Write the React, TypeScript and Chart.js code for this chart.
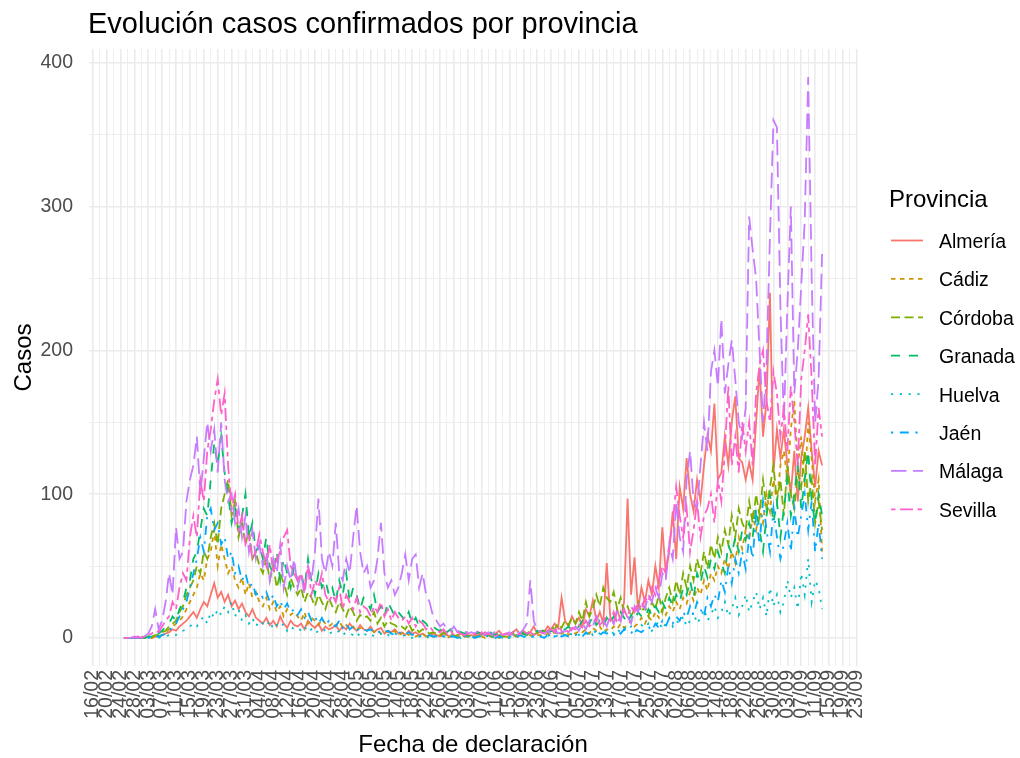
import React, { useEffect, useRef } from "react";
import { Chart, registerables } from "chart.js";

Chart.register(...registerables);

const titleText = "Evolución casos confirmados por provincia";
const xTitle = "Fecha de declaración";
const yTitle = "Casos";
const legendTitle = "Provincia";

const provinces = ["Almería", "Cádiz", "Córdoba", "Granada", "Huelva", "Jaén", "Málaga", "Sevilla"];

// day 0 = 16/02/2020; first data point = 25/02/2020
const firstDay = 9;

const xTickLabels = [
  "16/02", "20/02", "24/02", "28/02", "03/03", "07/03", "11/03", "15/03", "19/03", "23/03",
  "27/03", "31/03", "04/04", "08/04", "12/04", "16/04", "20/04", "24/04", "28/04", "02/05",
  "06/05", "10/05", "14/05", "18/05", "22/05", "26/05", "30/05", "03/06", "07/06", "11/06",
  "15/06", "19/06", "23/06", "27/06", "01/07", "05/07", "09/07", "13/07", "17/07", "21/07",
  "25/07", "29/07", "02/08", "06/08", "10/08", "14/08", "18/08", "22/08", "26/08", "30/08",
  "03/09", "07/09", "11/09", "15/09", "19/09", "23/09",
];

const yTickValues = [0, 50, 100, 150, 200, 250, 300, 350, 400];
const yLabelValues = [0, 100, 200, 300, 400];

const almeria = [
  0, 0, 0, 0, 0, 0, 0, 1, 0, 1,
  1, 2, 3, 4, 6, 5, 8, 10, 12, 15,
  18, 14, 20, 25, 22, 30, 38, 28, 32, 25,
  30, 22, 26, 20, 24, 18, 15, 20, 14, 12,
  10, 14, 9, 12, 8, 15, 10, 7, 12, 9,
  8, 10, 6, 12, 9, 7, 10, 5, 8, 6,
  7, 9, 5, 8, 6, 10, 7, 5, 9, 6,
  5, 8, 4, 6, 7, 3, 5, 4, 6, 3,
  4, 2, 5, 3, 4, 2, 3, 1, 2, 3,
  2, 1, 3, 2, 1, 2, 1, 3, 2, 1,
  2, 1, 3, 2, 4, 2, 1, 3, 5, 2,
  3, 2, 4, 6, 3, 5, 2, 4, 8, 3,
  5, 4, 8, 6, 10, 7, 28, 12, 8, 15,
  10, 14, 8, 20, 15, 26, 12, 18, 10, 52,
  15, 10, 20, 12, 25, 97, 30, 56, 20, 35,
  25, 40, 30, 50, 35, 77, 45, 60, 88, 55,
  105, 90, 125, 100, 88, 110, 95, 120, 141, 130,
  163, 110, 115, 140, 120, 150, 168, 125, 122, 110,
  122, 110, 150, 188, 140, 165, 240, 115, 145, 125,
  145, 120, 100, 130, 95, 125, 140, 160, 130, 105,
  130, 120,
];

const cadiz = [
  0, 0, 0, 0, 0, 0, 0, 1, 0, 1,
  1, 2, 4, 6, 8, 10, 12, 15, 20, 25,
  30, 35, 45, 40, 55, 60, 75, 50, 65, 55,
  45, 50, 40, 35, 42, 30, 38, 28, 32, 25,
  22, 28, 20, 25, 18, 22, 15, 20, 16, 18,
  15, 12, 18, 10, 14, 12, 9, 13, 10, 8,
  10, 8, 12, 7, 9, 6, 8, 5, 7, 6,
  5, 7, 4, 6, 3, 5, 4, 3, 5, 2,
  3, 4, 2, 3, 1, 2, 3, 1, 2, 1,
  1, 2, 1, 0, 1, 2, 1, 0, 1, 1,
  0, 1, 2, 1, 0, 1, 1, 2, 0, 1,
  1, 0, 2, 1, 1, 3, 1, 2, 1, 2,
  2, 1, 3, 2, 4, 2, 3, 5, 2, 4,
  3, 5, 4, 6, 3, 7, 5, 8, 4, 6,
  5, 8, 6, 10, 7, 9, 12, 8, 10, 14,
  10, 15, 12, 18, 14, 20, 16, 22, 18, 25,
  20, 28, 24, 32, 26, 35, 30, 40, 33, 45,
  40, 50, 45, 55, 48, 60, 52, 70, 62, 75,
  68, 85, 75, 90, 80, 100, 88, 110, 95, 120,
  130, 110, 145, 165, 120, 140, 105, 150, 125, 95,
  110, 60,
];

const cordoba = [
  0, 0, 0, 0, 0, 0, 1, 0, 1, 2,
  2, 4, 5, 8, 10, 12, 18, 22, 30, 35,
  40, 50, 45, 60, 55, 70, 80, 65, 90, 100,
  110, 85, 95, 70, 80, 65, 75, 55, 60, 50,
  45, 55, 40, 50, 35, 45, 38, 30, 42, 35,
  30, 35, 25, 32, 28, 22, 30, 25, 20, 28,
  22, 18, 25, 20, 15, 22, 18, 12, 16, 14,
  15, 12, 18, 10, 14, 8, 12, 10, 9, 7,
  8, 6, 10, 5, 7, 4, 6, 5, 3, 4,
  3, 2, 4, 2, 3, 1, 2, 3, 1, 2,
  1, 2, 1, 3, 1, 2, 1, 0, 2, 1,
  1, 2, 3, 1, 2, 4, 3, 5, 2, 4,
  3, 5, 4, 8, 6, 10, 7, 12, 9, 14,
  10, 18, 12, 25, 15, 20, 30, 22, 35, 28,
  25, 32, 20, 28, 18, 22, 15, 20, 25, 18,
  22, 15, 25, 20, 30, 18, 28, 35, 25, 40,
  30, 45, 35, 50, 40, 55, 45, 60, 48, 65,
  55, 70, 60, 75, 65, 85, 70, 90, 80, 75,
  95, 80, 100, 85, 110, 90, 105, 120, 95, 110,
  85, 120, 100, 90, 115, 105, 130, 95, 110, 80,
  95, 75,
];

const granada = [
  0, 0, 0, 0, 0, 1, 0, 1, 2, 1,
  3, 5, 8, 10, 15, 12, 20, 25, 35, 40,
  55, 60, 75, 90, 85, 110, 135, 120, 140, 115,
  100, 80, 90, 75, 85, 100, 70, 80, 60, 65,
  55, 70, 50, 45, 60, 40, 55, 45, 35, 50,
  40, 45, 35, 55, 40, 30, 45, 35, 40, 30,
  35, 25, 40, 30, 45, 25, 35, 30, 20, 28,
  25, 20, 30, 18, 22, 15, 25, 20, 15, 18,
  15, 12, 18, 10, 14, 8, 12, 10, 6, 8,
  6, 5, 8, 4, 6, 3, 5, 4, 3, 4,
  3, 2, 4, 3, 2, 5, 3, 2, 4, 3,
  3, 2, 4, 3, 5, 3, 2, 4, 3, 5,
  4, 6, 3, 5, 4, 7, 5, 6, 8, 5,
  6, 8, 12, 7, 10, 15, 9, 12, 8, 14,
  10, 15, 12, 18, 14, 10, 16, 12, 18, 15,
  14, 20, 16, 22, 18, 25, 20, 28, 22, 30,
  25, 35, 30, 40, 28, 45, 38, 50, 42, 55,
  48, 60, 52, 45, 65, 58, 70, 60, 75, 68,
  80, 70, 90, 75, 60, 85, 100, 80, 95, 70,
  90, 110, 85, 100, 120, 90, 110, 130, 95, 80,
  100, 85,
];

const huelva = [
  0, 0, 0, 0, 0, 0, 0, 0, 1, 0,
  0, 1, 1, 2, 3, 2, 4, 5, 6, 8,
  10, 8, 12, 15, 10, 18, 14, 20, 16, 22,
  18, 25, 15, 20, 12, 16, 10, 14, 8, 12,
  10, 8, 12, 6, 9, 7, 10, 5, 8, 6,
  7, 5, 8, 4, 6, 3, 5, 4, 6, 3,
  4, 3, 5, 2, 4, 3, 2, 4, 1, 3,
  2, 3, 1, 2, 3, 1, 2, 1, 3, 2,
  1, 2, 1, 0, 2, 1, 1, 0, 1, 2,
  1, 0, 1, 1, 0, 2, 1, 0, 1, 1,
  0, 1, 0, 1, 2, 0, 1, 1, 0, 1,
  1, 0, 1, 2, 1, 0, 2, 1, 1, 2,
  1, 2, 1, 3, 2, 1, 3, 2, 4, 2,
  3, 2, 4, 3, 5, 2, 4, 3, 6, 4,
  5, 3, 6, 4, 7, 5, 8, 4, 6, 9,
  7, 10, 5, 8, 12, 6, 10, 14, 8, 12,
  10, 15, 8, 12, 18, 10, 14, 20, 12, 16,
  22, 14, 18, 25, 15, 20, 28, 16, 22, 30,
  18, 25, 32, 20, 28, 15, 35, 22, 30, 18,
  25, 40, 28, 35, 20, 45, 30, 55, 25, 40,
  35, 20,
];

const jaen = [
  0, 0, 0, 0, 0, 0, 1, 0, 0, 1,
  1, 2, 3, 5, 8, 10, 15, 20, 25, 35,
  45, 55, 70, 60, 85, 90, 75, 80, 65, 70,
  55, 60, 45, 50, 40, 45, 35, 38, 30, 32,
  28, 32, 25, 30, 22, 26, 20, 24, 18, 20,
  16, 20, 14, 18, 12, 15, 10, 14, 9, 12,
  10, 8, 12, 7, 10, 6, 8, 5, 7, 6,
  5, 6, 4, 5, 3, 4, 5, 3, 2, 4,
  3, 2, 4, 2, 3, 1, 2, 1, 2, 1,
  1, 2, 1, 0, 1, 1, 0, 1, 2, 0,
  1, 0, 1, 1, 0, 2, 1, 0, 1, 0,
  0, 1, 1, 0, 2, 1, 0, 1, 1, 2,
  1, 0, 2, 1, 1, 3, 1, 2, 1, 2,
  2, 3, 1, 4, 2, 3, 5, 2, 4, 3,
  4, 2, 5, 3, 6, 4, 3, 7, 5, 4,
  6, 8, 5, 10, 7, 12, 8, 14, 10, 15,
  12, 18, 14, 22, 16, 25, 20, 15, 28, 22,
  30, 25, 40, 32, 50, 38, 55, 45, 60, 48,
  70, 55, 85, 65, 95, 75, 60, 90, 70, 55,
  65, 80, 60, 90, 70, 85, 100, 75, 95, 60,
  80, 55,
];

const malaga = [
  0, 0, 0, 1, 0, 2, 1, 3, 8, 20,
  6, 12, 25, 45, 30, 77, 55, 60, 95, 110,
  120, 140, 100, 125, 150, 130, 145, 115, 150, 110,
  95, 100, 80, 90, 70, 85, 60, 75, 55, 65,
  50, 60, 40, 55, 45, 65, 35, 50, 40, 55,
  35, 45, 30, 50, 40, 60, 97, 55, 45, 60,
  50, 80, 45, 40, 55, 45, 70, 92, 60, 45,
  50, 35, 40, 55, 80, 45, 35, 40, 30, 35,
  45, 58, 40, 55, 58, 35, 45, 30, 25, 15,
  12, 8, 10, 6, 5, 8, 4, 6, 5, 3,
  4, 3, 5, 2, 3, 4, 2, 5, 3, 2,
  3, 4, 2, 5, 3, 6, 10, 40, 12, 5,
  4, 3, 5, 2, 6, 3, 4, 5, 3, 6,
  8, 5, 10, 6, 12, 8, 15, 10, 12, 8,
  15, 10, 18, 12, 20, 15, 10, 22, 18, 25,
  20, 30, 25, 35, 28, 45, 40, 65, 55, 95,
  70, 60, 110, 130, 95, 90, 120, 150, 130, 185,
  200, 175, 222, 170, 190, 207, 180, 150, 140, 160,
  293, 270, 250, 200, 150, 190, 280, 360, 355, 230,
  150, 230, 300, 170, 200, 245, 290, 390, 250, 150,
  180, 267,
];

const sevilla = [
  0, 0, 0, 0, 1, 0, 1, 2, 3, 5,
  4, 8, 12, 15, 25, 20, 35, 45, 40, 70,
  85, 70, 110, 95, 130, 145, 165, 180, 155, 170,
  120, 90, 100, 75, 85, 65, 70, 55, 60, 72,
  60, 50, 65, 45, 55, 60, 70, 75, 50, 45,
  40, 45, 35, 50, 30, 40, 35, 45, 30, 25,
  30, 25, 35, 20, 30, 25, 20, 28, 18, 22,
  20, 15, 22, 18, 25, 15, 20, 12, 18, 14,
  12, 15, 10, 14, 8, 12, 10, 6, 8, 5,
  5, 4, 6, 3, 5, 2, 4, 3, 2, 3,
  2, 3, 1, 4, 2, 3, 2, 1, 3, 2,
  3, 2, 4, 2, 3, 5, 3, 4, 2, 3,
  4, 3, 5, 6, 4, 8, 5, 6, 4, 7,
  6, 9, 7, 12, 8, 10, 14, 9, 12, 15,
  12, 18, 10, 15, 20, 14, 22, 18, 25, 20,
  28, 25, 35, 30, 40, 50, 45, 65, 80, 105,
  85, 70, 90, 60, 75, 95, 70, 85, 90, 100,
  80, 110, 95, 130, 175, 120, 140, 115, 150, 130,
  150, 120, 170, 190, 200, 165, 150, 185, 170, 140,
  160, 130, 175, 150, 120, 180, 200, 225, 180, 120,
  160, 140,
];

const seriesValues = [almeria, cadiz, cordoba, granada, huelva, jaen, malaga, sevilla];

// styles (ggplot2 hue palette and linetypes)
const colors = ["#F8766D", "#CD9600", "#7CAE00", "#00BE67", "#00BFC4", "#00A9FF", "#C77CFF", "#FF61CC"];
const dashes: number[][] = [
  [],
  [4.5, 4.5],
  [9, 4.5],
  [9, 9],
  [2.2, 6.6],
  [2.2, 6.6, 9, 6.6],
  [15.5, 6.6],
  [4.5, 4.5, 13, 4.5],
];

const FONT = '"Liberation Sans", Arial, Helvetica, sans-serif';
const LINE_W = 1.8;

const decorPlugin = {
  id: "decor",
  afterDraw(chart: any) {
    const ctx = chart.ctx as CanvasRenderingContext2D;
    const area = chart.chartArea;
    ctx.save();
    ctx.fillStyle = "#000000";
    ctx.textBaseline = "alphabetic";

    // title
    ctx.font = `29px ${FONT}`;
    ctx.textAlign = "left";
    ctx.fillText(titleText, 88, 33);

    // x axis title
    ctx.font = `24px ${FONT}`;
    ctx.textAlign = "center";
    ctx.fillText(xTitle, (area.left + area.right) / 2, 752);

    // y axis title
    ctx.save();
    ctx.translate(31, (area.top + area.bottom) / 2);
    ctx.rotate(-Math.PI / 2);
    ctx.fillText(yTitle, 0, 0);
    ctx.restore();

    // legend
    ctx.textAlign = "left";
    ctx.font = `24px ${FONT}`;
    ctx.fillText(legendTitle, 889, 207);
    ctx.font = `19.5px ${FONT}`;
    provinces.forEach((name, i) => {
      const yc = 240.5 + i * 38.4;
      ctx.save();
      ctx.strokeStyle = colors[i];
      ctx.lineWidth = LINE_W;
      ctx.setLineDash(dashes[i]);
      ctx.lineCap = "butt";
      ctx.beginPath();
      ctx.moveTo(891, yc);
      ctx.lineTo(923, yc);
      ctx.stroke();
      ctx.restore();
      ctx.fillStyle = "#000000";
      ctx.fillText(name, 939, yc + 7.5);
    });
    ctx.restore();
  },
};

export default function App() {
  const canvasRef = useRef<HTMLCanvasElement | null>(null);

  useEffect(() => {
    if (!canvasRef.current) return;
    const datasets = seriesValues.map((vals, i) => ({
      label: provinces[i],
      data: vals.map((v, k) => ({ x: firstDay + k, y: v })),
      borderColor: colors[i],
      backgroundColor: colors[i],
      borderWidth: LINE_W,
      borderDash: dashes[i],
      borderCapStyle: "butt" as const,
      pointRadius: 0,
      tension: 0,
      fill: false,
      order: provinces.length - i,
    }));

    const lastDay = firstDay + almeria.length - 1;
    const span = lastDay - firstDay;
    const xMin = firstDay - span * 0.05;
    const xMax = lastDay + span * 0.05;
    const xTickValues = xTickLabels.flatMap((_, k) => (k < xTickLabels.length - 1 ? [k * 4, k * 4 + 2] : [k * 4]));

    const gridColor = "#EBEBEB";

    const chart = new Chart(canvasRef.current, {
      type: "line",
      data: { datasets },
      plugins: [decorPlugin],
      options: {
        animation: false,
        responsive: true,
        maintainAspectRatio: false,
        events: [],
        layout: { padding: { left: 0, top: 49, right: 163, bottom: 30 } },
        plugins: {
          legend: { display: false },
          tooltip: { enabled: false },
          title: { display: false },
        },
        scales: {
          x: {
            type: "linear",
            min: xMin,
            max: xMax,
            afterBuildTicks: (scale: any) => {
              scale.ticks = xTickValues.map((v) => ({ value: v }));
            },
            afterFit: (scale: any) => {
              scale.height = 62;
            },
            border: { display: false },
            grid: {
              drawTicks: false,
              color: gridColor,
              lineWidth: (c: any) => (Math.round(c.tick?.value ?? 0) % 4 === 0 ? 1.6 : 0.8),
            },
            ticks: {
              autoSkip: false,
              minRotation: 90,
              maxRotation: 90,
              padding: 4,
              color: "#4D4D4D",
              font: { family: FONT, size: 19.5 },
              callback: (value: any) => {
                const v = Math.round(Number(value));
                return v % 4 === 0 ? xTickLabels[v / 4] ?? "" : "";
              },
            },
          },
          y: {
            type: "linear",
            min: -19.5,
            max: 409.5,
            afterBuildTicks: (scale: any) => {
              scale.ticks = yTickValues.map((v) => ({ value: v }));
            },
            afterFit: (scale: any) => {
              scale.width = 89;
            },
            border: { display: false },
            grid: {
              drawTicks: false,
              color: gridColor,
              lineWidth: (c: any) => (yLabelValues.includes(Math.round(c.tick?.value ?? -1)) ? 1.6 : 0.8),
            },
            ticks: {
              padding: 16,
              color: "#4D4D4D",
              font: { family: FONT, size: 19.5 },
              callback: (value: any) => {
                const v = Math.round(Number(value));
                return yLabelValues.includes(v) ? String(v) : "";
              },
            },
          },
        },
      },
    });
    return () => chart.destroy();
  }, []);

  return (
    <div style={{ position: "absolute", left: 0, top: 0, width: 1020, height: 758, background: "#ffffff" }}>
      <canvas ref={canvasRef} />
    </div>
  );
}
